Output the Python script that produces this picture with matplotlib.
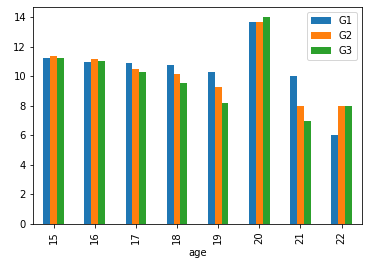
import numpy as np
import pandas as pd
import matplotlib
matplotlib.use("Agg")
import matplotlib.pyplot as plt

ages = [15, 16, 17, 18, 19, 20, 21, 22]
g1 = [11.22, 10.95, 10.89, 10.75, 10.28, 13.66, 10.0, 6.0]
g2 = [11.36, 11.16, 10.48, 10.14, 9.26, 13.66, 8.0, 8.0]
g3 = [11.22, 11.02, 10.28, 9.53, 8.18, 14.0, 7.0, 8.0]

df = pd.DataFrame({"G1": g1, "G2": g2, "G3": g3}, index=pd.Index(ages, name="age"))

# drawn at 72 dpi, like the original notebook output
fig, ax = plt.subplots(figsize=(368 / 72, 265 / 72), dpi=72)
df.plot.bar(ax=ax)
fig.subplots_adjust(left=0.0897, right=0.984, top=0.974, bottom=0.155)
fig.savefig("out.png")
